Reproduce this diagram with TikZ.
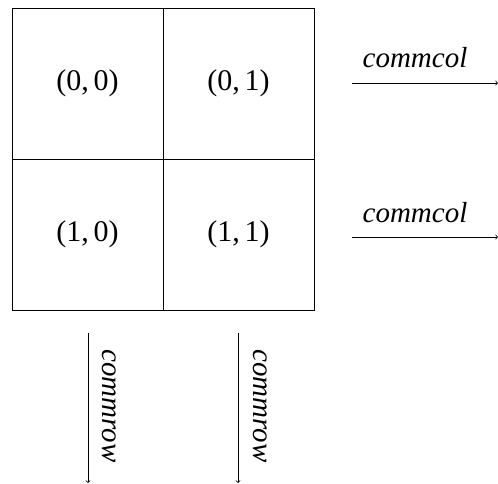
\documentclass[tikz,border=0pt]{standalone}
\usepackage{fontspec}
\setmainfont{Liberation Serif}
\begin{document}
\begin{tikzpicture}[x=1pt,y=-1pt,
  cell/.style={draw,line width=0.9pt,minimum size=151pt,inner sep=0pt,font=\fontsize{30}{34}\selectfont},
  lbl/.style={font=\fontsize{29}{32}\selectfont\itshape,inner sep=0pt},
  flow/.style={line width=0.8pt,-to}]
\useasboundingbox (0,0) rectangle (498,484);
\node[cell] (c00) at (87.5,83.5) {(0,\,0)};
\node[cell] (c01) at (238.5,83.5) {(0,\,1)};
\node[cell] (c10) at (87.5,234.5) {(1,\,0)};
\node[cell] (c11) at (238.5,234.5) {(1,\,1)};
\coordinate (r0s) at (352,83);
\coordinate (r0e) at (498,83);
\coordinate (r1s) at (352,237);
\coordinate (r1e) at (498,237);
\draw[flow] (r0s) -- (r0e);
\draw[flow] (r1s) -- (r1e);
\node[lbl,anchor=base] (t0) at (415,68) {commcol};
\node[lbl,anchor=base] (t1) at (415,222) {commcol};
\coordinate (d0s) at (88,333);
\coordinate (d0e) at (88,483);
\coordinate (d1s) at (238,333);
\coordinate (d1e) at (238,483);
\draw[flow] (d0s) -- (d0e);
\draw[flow] (d1s) -- (d1e);
\node[lbl,rotate=-90] (u0) at (109,406) {commrow};
\node[lbl,rotate=-90] (u1) at (260,406) {commrow};
\end{tikzpicture}
\end{document}
